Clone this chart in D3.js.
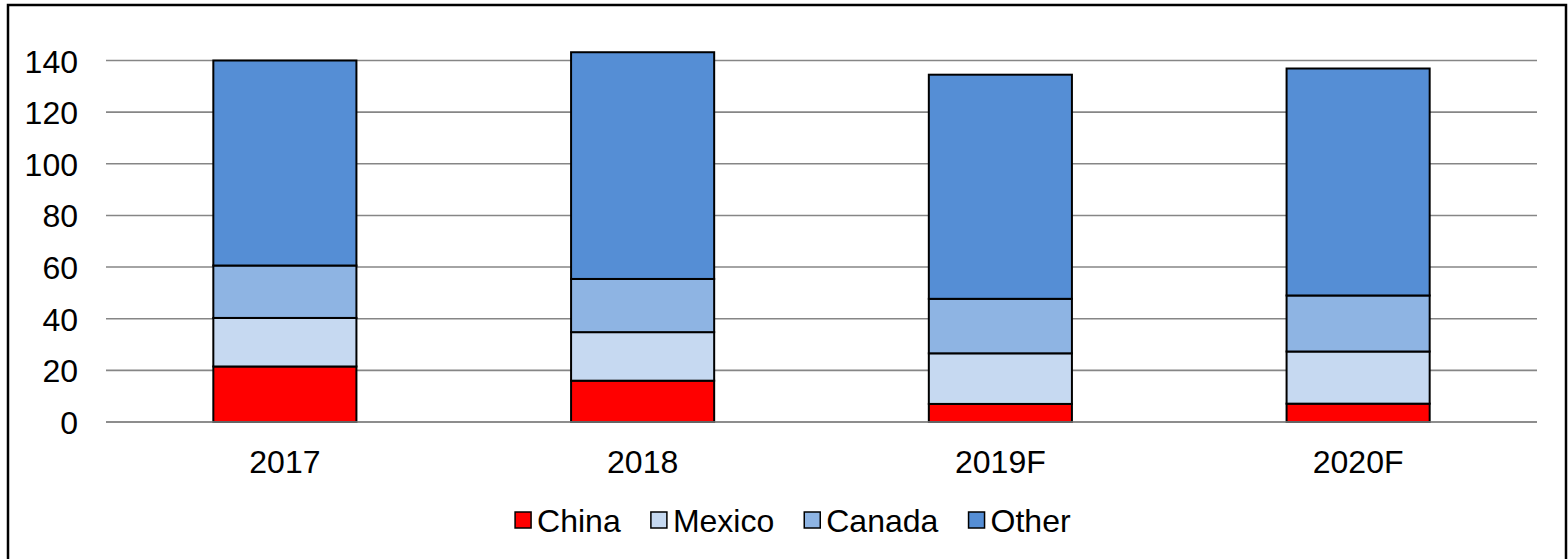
<!DOCTYPE html>
<html>
<head>
<meta charset="utf-8">
<script src="https://cdn.jsdelivr.net/npm/d3@7"></script>
<style>
  html, body { margin: 0; padding: 0; background: #fff; }
  svg { display: block; }
</style>
</head>
<body>
<svg id="chart" width="1568" height="559"></svg>
<script>
// Categories and stacked series
const years = ["2017", "2018", "2019F", "2020F"];
const seriesNames = ["China", "Mexico", "Canada", "Other"];
const china  = [21.5, 16.0, 7.0, 7.1];
const mexico = [18.8, 18.8, 19.6, 20.2];
const canada = [20.3, 20.6, 21.1, 21.7];
const other  = [79.4, 87.8, 86.8, 87.9];
const yTicks = [0, 20, 40, 60, 80, 100, 120, 140];
const colors = ["#FF0000", "#C6D9F1", "#8EB4E3", "#558ED5"];

const rows = years.map((y, i) => ({
  year: y, China: china[i], Mexico: mexico[i], Canada: canada[i], Other: other[i]
}));

const svg = d3.select("#chart");
const W = 1568, H = 559;
const font = "'Liberation Sans', Arial, sans-serif";

// Outer frame
svg.append("rect")
  .attr("x", 8).attr("y", 5)
  .attr("width", W - 10).attr("height", H + 10)
  .attr("fill", "none").attr("stroke", "#000").attr("stroke-width", 2.5);

const plot = { left: 106, right: 1537, top: 60.5, bottom: 422 };

const x = d3.scaleBand().domain(years)
  .range([plot.left, plot.right]).paddingInner(0.6).paddingOuter(0.3);
const y = d3.scaleLinear().domain([0, 140]).range([plot.bottom, plot.top]);

// Horizontal gridlines
svg.append("g").selectAll("line").data(yTicks).join("line")
  .attr("x1", plot.left).attr("x2", plot.right)
  .attr("y1", d => y(d)).attr("y2", d => y(d))
  .attr("stroke", "#868686").attr("stroke-width", 1.6);

// Y-axis tick labels
const yAxis = d3.axisLeft(y).tickValues(yTicks).tickSize(0).tickPadding(0);
const gy = svg.append("g").attr("transform", `translate(78,0)`).call(yAxis);
gy.select(".domain").remove();
gy.attr("font-size", null).attr("font-family", null);
gy.selectAll("text")
  .style("font-family", font).style("font-size", "32px").attr("fill", "#000")
  .attr("dy", "0.36em");

// Stacked bars
const stack = d3.stack().keys(seriesNames)(rows);
const bw = x.bandwidth();
svg.append("g").selectAll("g").data(stack).join("g")
  .attr("fill", (d, i) => colors[i])
  .selectAll("rect").data(d => d).join("rect")
  .attr("x", d => x(d.data.year))
  .attr("width", bw)
  .attr("y", d => y(d[1]))
  .attr("height", d => y(d[0]) - y(d[1]))
  .attr("stroke", "#000").attr("stroke-width", 2);

// Baseline drawn over the bars
svg.append("line")
  .attr("x1", plot.left).attr("x2", plot.right)
  .attr("y1", y(0)).attr("y2", y(0))
  .attr("stroke", "#868686").attr("stroke-width", 1.6);

// X-axis category labels
const xAxis = d3.axisBottom(x).tickSize(0).tickPadding(0);
const gx = svg.append("g").attr("transform", `translate(0,${y(0)})`).call(xAxis);
gx.select(".domain").remove();
gx.attr("font-size", null).attr("font-family", null);
gx.selectAll("text")
  .style("font-family", font).style("font-size", "32px").attr("fill", "#000")
  .attr("y", 51).attr("dy", "0");

// Legend
const legendItems = seriesNames.map((n, i) => ({ name: n, color: colors[i] }));
const legend = svg.append("g");
const sw = 16, gapText = 6, gapItem = 30;
let cx = 0;
const items = legend.selectAll("g").data(legendItems).join("g");
items.append("rect")
  .attr("width", sw).attr("height", sw).attr("y", -sw / 2)
  .attr("fill", d => d.color).attr("stroke", "#000").attr("stroke-width", 1.5);
items.append("text")
  .attr("x", sw + gapText).attr("dy", "0.36em")
  .style("font-family", font).style("font-size", "32px").attr("fill", "#000")
  .text(d => d.name);
items.each(function () {
  const g = d3.select(this);
  g.attr("transform", `translate(${cx},0)`);
  cx += this.getBBox().width + gapItem;
});
const totalW = cx - gapItem;
legend.attr("transform", `translate(${793 - totalW / 2},520)`);
</script>
</body>
</html>
